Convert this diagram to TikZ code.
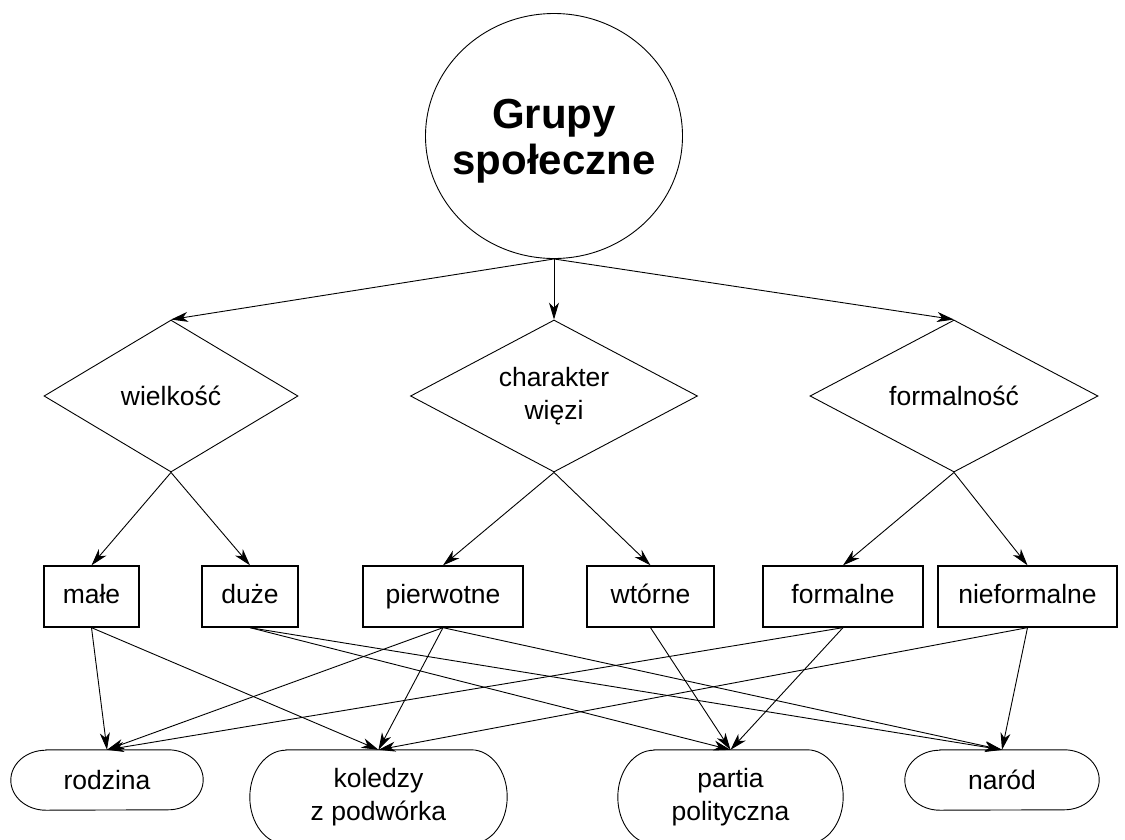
\documentclass[tikz,border=0pt]{standalone}
\usepackage{fontspec}
\setmainfont{Liberation Sans}
\usetikzlibrary{shapes.geometric,arrows.meta}
\begin{document}
\begin{tikzpicture}[x=1pt,y=-1pt,
  arr/.style={-{Stealth[length=17pt,width=10pt,inset=5pt]}, line width=0.9pt},
  lbl/.style={font=\fontsize{26.5}{33}\selectfont, align=center, inner sep=0pt},
  dia/.style={lbl, draw, diamond, aspect=1.9, line width=0.9pt, minimum height=152pt},
  box/.style={lbl, draw, rectangle, line width=1.3pt, minimum height=61pt, text height=19pt, text depth=5.5pt},
  pill/.style={lbl, rectangle},
  outline/.style={line width=0.9pt}]
\useasboundingbox (0,0) rectangle (1125,839);
\clip (0,0) rectangle (1125,839);
\fill[white] (0,0) rectangle (1125,839);
% top circle
\node[draw, ellipse, line width=0.9pt, minimum width=257pt, minimum height=245pt, inner sep=0pt] (G) at (554,136) {};
\node[align=center, inner sep=0pt, font=\fontsize{42}{46}\selectfont\bfseries] (Gt) at (554,141) {Grupy\\społeczne};
% diamonds
\node[dia, minimum width=254pt] (d1) at (171,396) {wielkość};
\node[dia, minimum width=287pt] (d2) at (554,396) {charakter\\więzi};
\node[dia, minimum width=288pt] (d3) at (954,396) {formalność};
% boxes
\node[box, minimum width=95pt]  (male)  at (91.5,596.5) {małe};
\node[box, minimum width=96pt]  (duze)  at (250,596.5) {duże};
\node[box, minimum width=160pt] (pierw) at (443,596.5) {pierwotne};
\node[box, minimum width=127pt] (wtor)  at (650.5,596.5) {wtórne};
\node[box, minimum width=160pt] (form)  at (843,596.5) {formalne};
\node[box, minimum width=179pt] (niefo) at (1027.5,596.5) {nieformalne};
% bottom rounded shapes
\node[pill, minimum width=122pt, minimum height=60pt] (rod) at (107,780) {rodzina};
\node[pill, minimum width=185pt, minimum height=94pt] (kol) at (378.5,797) {koledzy\\z podwórka};
\node[pill, minimum width=153pt, minimum height=94pt] (par) at (730.5,797) {partia\\polityczna};
\node[pill, minimum width=124pt, minimum height=60pt] (nar) at (1002,780) {naród};
\draw[outline] (rod.north west) -- (rod.north east) arc[start angle=-90,end angle=90,x radius=35,y radius=30] -- (rod.south west) arc[start angle=90,end angle=270,x radius=35,y radius=30] -- cycle;
\draw[outline] (nar.north west) -- (nar.north east) arc[start angle=-90,end angle=90,x radius=35,y radius=30] -- (nar.south west) arc[start angle=90,end angle=270,x radius=35,y radius=30] -- cycle;
\draw[outline] (kol.north west) -- (kol.north east) arc[start angle=-90,end angle=90,x radius=36,y radius=47] -- (kol.south west) arc[start angle=90,end angle=270,x radius=36,y radius=47] -- cycle;
\draw[outline] (par.north west) -- (par.north east) arc[start angle=-90,end angle=90,x radius=36,y radius=47] -- (par.south west) arc[start angle=90,end angle=270,x radius=36,y radius=47] -- cycle;
% connectors: circle to diamonds
\draw[arr] (G.south) -- (d1.north);
\draw[arr] (G.south) -- (d2.north);
\draw[arr] (G.south) -- (d3.north);
% diamonds to boxes
\draw[arr] (d1.south) -- (male.north);
\draw[arr] (d1.south) -- (duze.north);
\draw[arr] (d2.south) -- (pierw.north);
\draw[arr] (d2.south) -- (wtor.north);
\draw[arr] (d3.south) -- (form.north);
\draw[arr] (d3.south) -- (niefo.north);
% boxes to bottom
\draw[arr] (male.south) -- (rod.north);
\draw[arr] (male.south) -- (kol.north);
\draw[arr] (duze.south) -- (par.north);
\draw[arr] (duze.south) -- (nar.north);
\draw[arr] (pierw.south) -- (rod.north);
\draw[arr] (pierw.south) -- (kol.north);
\draw[arr] (pierw.south) -- (nar.north);
\draw[arr] (wtor.south) -- (par.north);
\draw[arr] (form.south) -- (par.north);
\draw[arr] (form.south) -- (rod.north);
\draw[arr] (niefo.south) -- (kol.north);
\draw[arr] (niefo.south) -- (nar.north);
\end{tikzpicture}
\end{document}
